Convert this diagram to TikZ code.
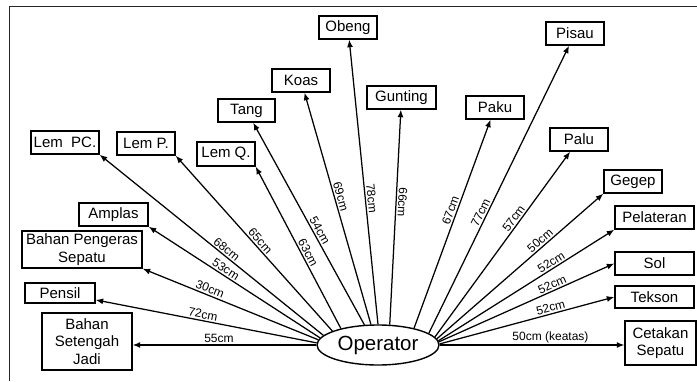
\documentclass[tikz,border=0pt]{standalone}
\usepackage{fontspec}
\setmainfont{Liberation Sans}
\usetikzlibrary{shapes.geometric,arrows.meta}
\begin{document}
\begin{tikzpicture}[x=1pt,y=-1pt,
  box/.style={draw, line width=1.4pt, font=\fontsize{15}{17.5}\selectfont, inner sep=0pt, minimum height=23pt, align=center},
  lbl/.style={font=\fontsize{12}{14}\selectfont, sloped, above, inner sep=1.5pt},
  conn/.style={line width=1.25pt, -{Latex[length=7.5pt,width=6pt]}},
  rconn/.style={line width=1.25pt, {Latex[length=7.5pt,width=6pt]}-},
  frame/.style={line width=1.4pt, black!85}]
\useasboundingbox (0,0) rectangle (697,381);
\draw[frame] (697,6.5) -- (9.5,6.5) -- (9.5,381);

\node[box, minimum width=58pt] (obeng) at (348,27.5) {Obeng};
\node[box, minimum width=58pt] (koas) at (301,80.5) {Koas};
\node[box, minimum width=57pt] (tang) at (246.5,110.5) {Tang};
\node[box, minimum width=68pt] (lempc) at (65,142.5) {Lem\ \ PC.};
\node[box, minimum width=58pt] (lemp) at (146,143.5) {Lem P.};
\node[box, minimum width=58pt, minimum height=24pt] (lemq) at (226,154) {Lem Q.};
\node[box, minimum width=69pt] (gunting) at (401.5,97.5) {Gunting};
\node[box, minimum width=58pt] (paku) at (495,107.5) {Paku};
\node[box, minimum width=58pt] (pisau) at (575,33.5) {Pisau};
\node[box, minimum width=58pt] (palu) at (579,139.5) {Palu};
\node[box, minimum width=58pt] (gegep) at (633,181.5) {Gegep};
\node[box, minimum width=79pt] (pelateran) at (654.5,217.5) {Pelateran};
\node[box, minimum width=79pt] (sol) at (654.5,263.5) {Sol};
\node[box, minimum width=79pt, minimum height=22pt] (tekson) at (654.5,297) {Tekson};
\node[box, minimum width=71pt, minimum height=44pt] (cetakan) at (660.5,343) {Cetakan\\Sepatu};
\node[box, minimum width=69pt] (amplas) at (113.5,214.5) {Amplas};
\node[box, minimum width=120pt, minimum height=37pt] (pengeras) at (82,249.5) {Bahan Pengeras\\Sepatu};
\node[box, minimum width=70pt, minimum height=20pt] (pensil) at (60,293) {Pensil};
\node[box, minimum width=90pt, minimum height=57pt] (bsj) at (87,341.5) {Bahan\\Setengah\\Jadi};
\node[draw, ellipse, line width=1.4pt, minimum width=122pt, minimum height=40pt, inner sep=0pt,
      font=\fontsize{20.5}{24}\selectfont] (op) at (378,345) {Operator};

% left side
\draw[conn] (op.west) -- node[lbl, pos=0.53] {55cm} (bsj.east |- op.west);
\draw[conn] (op.178) -- node[lbl, pos=0.52] {72cm} (pensil);
\draw[conn] (op.175.5) -- node[lbl, pos=0.63] {30cm} (pengeras.south east);
\draw[conn] (op.173) -- node[lbl, pos=0.57] {53cm} (amplas.south east);
\draw[conn] (op.170) -- node[lbl, pos=0.45] {68cm} (lempc.south east);
\draw[conn] (op.163.6) -- node[lbl, pos=0.49] {65cm} (lemp.south east);
\draw[conn] (op.156.6) -- node[lbl, pos=0.45] {63cm} (lemq.south east);
\draw[conn] (op.124) -- node[lbl, pos=0.45] {54cm} (tang);
\draw[conn] (op.109) -- node[lbl, pos=0.545] {69cm} (koas);
\draw[conn] (op.90) -- node[lbl, pos=0.44] {78cm} (obeng);
\draw[rconn] (gunting) -- node[lbl, allow upside down, pos=0.43] {66cm} (op.60);
% right side
\draw[conn] (op.25) -- node[lbl, pos=0.555] {67cm} (paku);
\draw[conn] (op.13) -- node[lbl, pos=0.41] {77cm} (pisau);
\draw[conn] (op.8) -- node[lbl, pos=0.62] {57cm} (palu);
\draw[conn] (op.6) -- node[lbl, pos=0.645] {50cm} (gegep.south west);
\draw[conn] (op.4.5) -- node[lbl, pos=0.66] {52cm} (pelateran.south west);
\draw[conn] (op.3) -- node[lbl, pos=0.66] {52cm} (sol.west);
\draw[conn] (op.1.5) -- node[lbl, pos=0.645] {52cm} (tekson.west);
\draw[conn] (op.east) -- node[lbl, pos=0.6] {50cm (keatas)} (cetakan.west |- op.east);
\end{tikzpicture}
\end{document}
